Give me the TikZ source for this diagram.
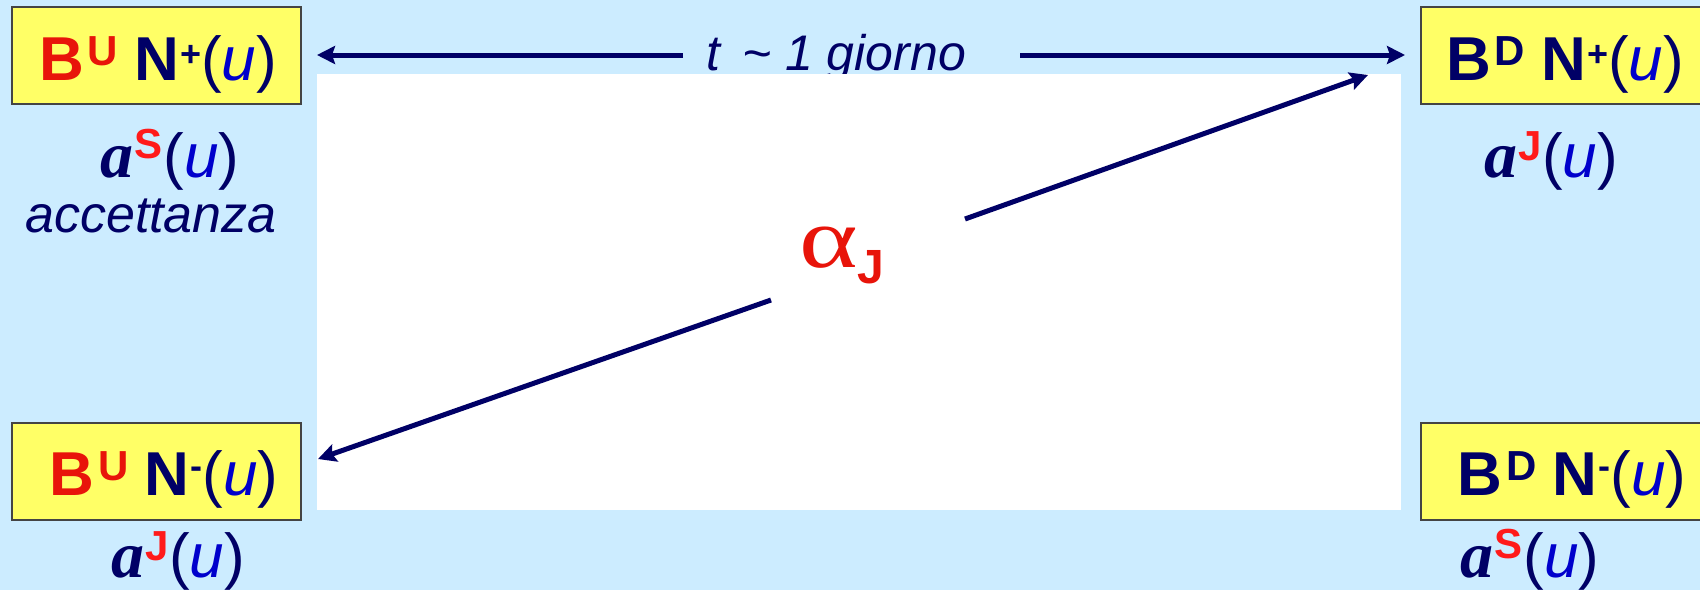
\documentclass[tikz,border=0pt]{standalone}
\usepackage{fontspec}
\setmainfont{Liberation Sans}
\newfontfamily\tnr{Liberation Serif}
\usetikzlibrary{arrows.meta}
\definecolor{bgblue}{HTML}{CCECFF}
\definecolor{boxyellow}{HTML}{FFFF66}
\definecolor{navy}{HTML}{000066}
\definecolor{redB}{HTML}{E8140A}
\definecolor{redS}{HTML}{FF1A1A}
\definecolor{blueu}{HTML}{0000CC}
\definecolor{boxline}{HTML}{444444}
\newcommand{\fsbig}{\fontsize{31}{36}\selectfont}
\newcommand{\parenu}{{\fsbig\mdseries\upshape\color{navy}(\textcolor{blueu}{\itshape u})}}
\newcommand{\Bsup}[2]{{\fsbig\bfseries\color{#1}B\kern0.06em\raisebox{7.2pt}{\fontsize{21}{23}\selectfont\bfseries #2}}}
\newcommand{\Nsup}[2]{{\fsbig\bfseries\color{navy}N\kern0.02em\raisebox{#1}{\fontsize{18}{20}\selectfont\bfseries #2}}}
\newcommand{\asup}[3]{{\tnr\bfseries\itshape\fontsize{33}{36}\selectfont\color{navy}a}\kern0.06em\raisebox{#3}{\fontsize{#2}{23}\selectfont\bfseries\color{redS}#1}\kern0.03em\parenu}
\newcommand{\boxlabel}[4]{\Bsup{#1}{#2}\hspace{8pt}\Nsup{#3}{#4}\parenu}
\tikzset{
  ybox/.style={draw=boxline, line width=0.6pt, fill=boxyellow, minimum width=144.5pt, minimum height=48.5pt, inner sep=0pt},
  txt/.style={anchor=base, inner sep=0pt},
  conn/.style={draw=navy, line width=2.5pt, -{Stealth[length=9pt,width=9pt,inset=1.5pt]}},
}
\begin{document}
\begin{tikzpicture}[x=0.5pt,y=-0.5pt]
\useasboundingbox (0,0) rectangle (1700,590);
\clip (0,0) rectangle (1700,590);
\fill[bgblue] (0,0) rectangle (1700,590);
% label of the top arrow (drawn below the white panel)
\node[txt, text=navy, font=\fontsize{25}{28}\selectfont\itshape] (lbl) at (836,70) {t \,\textasciitilde\ 1 giorno};
% white panel
\fill[white] (317,74) rectangle (1401,510);
% boxes
\node[ybox] (tl) at (156.5,55.5) {};
\node[ybox] (tr) at (1565.5,55.5) {};
\node[ybox] (bl) at (156.5,471.5) {};
\node[ybox] (br) at (1565.5,471.5) {};
% box texts
\node[txt] (tlt) at (158,80) {\boxlabel{redB}{U}{7pt}{+}};
\node[txt] (trt) at (1565,80) {\boxlabel{navy}{D}{7pt}{+}};
\node[txt] (blt) at (164,495) {\boxlabel{redB}{U}{8.5pt}{-}};
\node[txt] (brt) at (1572,495) {\boxlabel{navy}{D}{8.5pt}{-}};
% acceptances
\node[txt] (atl) at (170,177) {\asup{S}{21}{9.5pt}};
\node[txt, text=navy, font=\fontsize{26}{30}\selectfont\itshape] (acc) at (151,232) {accettanza};
\node[txt] (atr) at (1551,177) {\asup{J}{21}{8.5pt}};
\node[txt] (abl) at (178,577) {\asup{J}{21}{8.5pt}};
\node[txt] (abr) at (1530,577) {\asup{S}{21}{9.5pt}};
% alpha_J
\node[txt] (alpha) at (842,267) {{\color{redB}\scalebox{1.3}[1]{\tnr\fontsize{43}{46}\selectfont α}}\raisebox{-8pt}{\fontsize{24}{28}\selectfont\bfseries\color{redB}J}};
% connector ends
\coordinate (lblL) at (683,55);
\coordinate (lblR) at (1020,55);
\coordinate (tipL) at (317,55);
\coordinate (tipR) at (1405,55);
\coordinate (upS) at (965,219);
\coordinate (upE) at (1368,75);
\coordinate (loS) at (771,300);
\coordinate (loE) at (318,459);
\draw[conn] (lblL) -- (tipL);
\draw[conn] (lblR) -- (tipR);
\draw[conn] (upS) -- (upE);
\draw[conn] (loS) -- (loE);
\end{tikzpicture}
\end{document}
